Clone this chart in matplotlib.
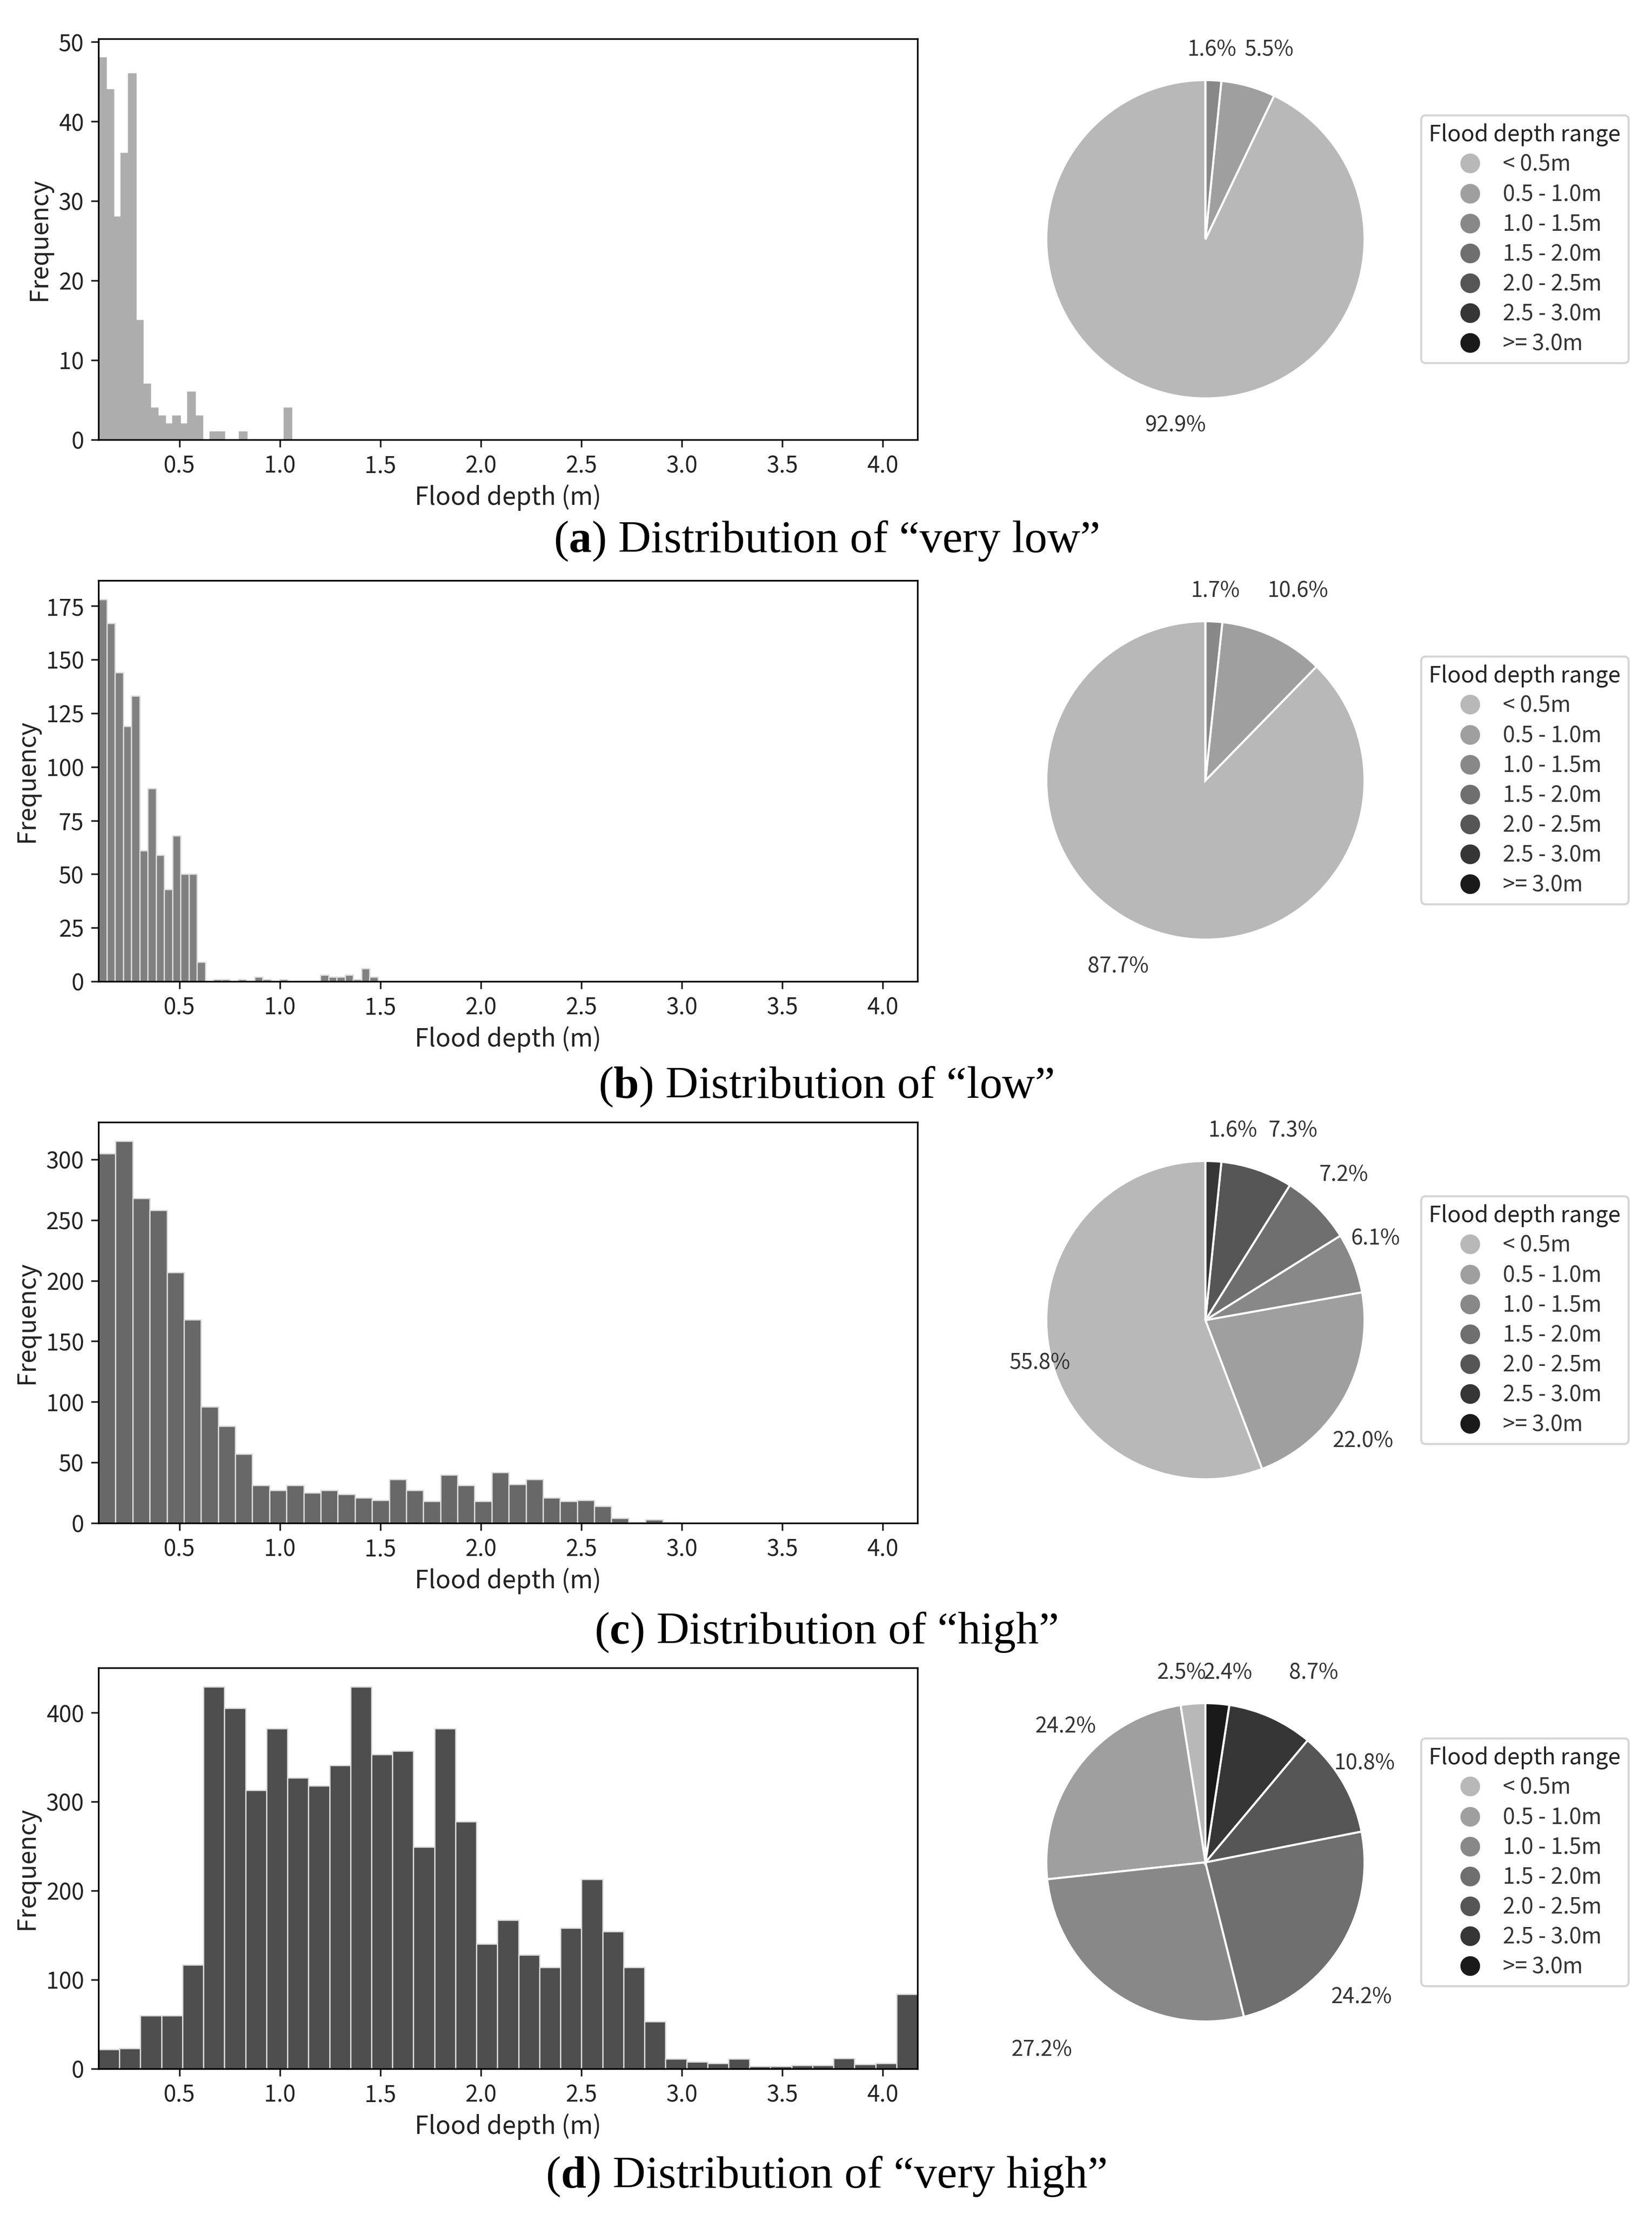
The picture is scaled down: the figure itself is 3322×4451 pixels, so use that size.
import numpy as np
import matplotlib.pyplot as plt
from matplotlib.lines import Line2D

plt.rcParams['font.family'] = ['Noto Sans CJK KR', 'DejaVu Sans']
plt.rcParams['mathtext.fontset'] = 'custom'
plt.rcParams['mathtext.rm'] = 'Liberation Serif'
plt.rcParams['mathtext.bf'] = 'Liberation Serif:bold'

W, H = 3322, 4451
DPI = 300

# histogram counts per bin
BIN_START = 0.0965
XMAX = 4.173

counts_very_low = [48, 44, 28, 36, 46, 15, 7, 4, 3, 2, 3, 2, 6, 3, 0, 1, 1, 0, 0, 1,
                   0, 0, 0, 0, 0, 4]
counts_low = [178, 167, 144, 119, 133, 61, 90, 59, 43, 68, 50, 50, 9, 0, 1, 1, 0, 1,
              0, 2, 1, 0, 1, 0, 0, 0, 0, 3, 2, 2, 3, 1, 6, 2]
counts_high = [305, 315, 268, 258, 207, 168, 96, 80, 57, 31, 27, 31, 25, 27, 24, 21,
               19, 36, 27, 18, 40, 31, 18, 42, 32, 36, 21, 18, 19, 14, 4, 1, 3, 1]
counts_very_high = [22, 23, 60, 60, 117, 429, 405, 313, 382, 327, 318, 341, 429, 353,
                    357, 249, 382, 278, 140, 167, 128, 114, 158, 213, 154, 114, 53,
                    11, 8, 6, 11, 3, 3, 4, 4, 12, 5, 6, 84]
bin_widths = [0.0369, 0.0409, 0.0851, 0.10453]

# share of each flood depth range (%)
ranges = ['< 0.5m', '0.5 - 1.0m', '1.0 - 1.5m', '1.5 - 2.0m',
          '2.0 - 2.5m', '2.5 - 3.0m', '>= 3.0m']
share_very_low = [92.9, 5.5, 1.6, 0, 0, 0, 0]
share_low = [87.7, 10.6, 1.7, 0, 0, 0, 0]
share_high = [55.8, 22.0, 6.1, 7.2, 7.3, 1.6, 0]
share_very_high = [2.5, 24.2, 27.2, 24.2, 10.8, 8.7, 2.4]

classes = ['very low', 'low', 'high', 'very high']
letters = ['a', 'b', 'c', 'd']
yticks = [np.arange(0, 51, 10), np.arange(0, 176, 25),
          np.arange(0, 301, 50), np.arange(0, 401, 100)]

bar_colors = ['#adadad', '#808080', '#686868', '#4e4e4e']
bar_edges = ['#adadad', '#dcdcdc', '#dcdcdc', '#dcdcdc']
range_colors = ['#b8b8b8', '#9f9f9f', '#888888', '#6f6f6f',
                '#565656', '#363636', '#1a1a1a']

# where the percent labels sit, in pie radius units (non-zero slices only)
label_xy = [
    [(-0.19, -1.17), (0.40, 1.19), (0.04, 1.19)],
    [(-0.55, -1.17), (0.58, 1.19), (0.06, 1.19)],
    [(-1.04, -0.27), (0.99, -0.76), (1.07, 0.51), (0.87, 0.91), (0.55, 1.19),
     (0.17, 1.19)],
    [(-0.15, 1.19), (-0.88, 0.85), (-1.03, -1.18), (0.98, -0.85), (1.00, 0.62),
     (0.68, 1.19), (0.14, 1.19)],
]

all_counts = [counts_very_low, counts_low, counts_high, counts_very_high]
all_shares = [share_very_low, share_low, share_high, share_very_high]

# layout in pixels of the final image
HIST_LEFT, HIST_RIGHT, HIST_H = 198, 1845, 806
hist_tops = [78, 1167, 2256, 3353]
PIE_X, PIE_R = 2424, 320
pie_ys = [481, 1569, 2654, 3744]
LEGEND_LEFT = 2858
caption_ys = [1088, 2185, 3282, 4376]

fig = plt.figure(figsize=(W / DPI, H / DPI), dpi=DPI)


def px_axes(left, top, width, height):
    return fig.add_axes([left / W, 1 - (top + height) / H, width / W, height / H])


def pct_label(p):
    return f'{p:.1f}%' if p > 0.05 else ''


for i in range(4):
    counts = np.array(all_counts[i])
    edges = BIN_START + bin_widths[i] * np.arange(len(counts) + 1)

    ax = px_axes(HIST_LEFT, hist_tops[i], HIST_RIGHT - HIST_LEFT, HIST_H)
    ax.hist(edges[:-1], bins=edges, weights=counts, color=bar_colors[i],
            edgecolor=bar_edges[i], linewidth=0.6)
    ax.set_xlim(BIN_START, XMAX)
    ax.set_ylim(0, counts.max() * 1.05)
    ax.set_xticks(np.arange(0.5, 4.01, 0.5))
    ax.set_yticks(yticks[i])
    ax.tick_params(labelsize=11, colors='#222222')
    ax.set_xlabel('Flood depth (m)', fontsize=12, color='#222222', labelpad=3)
    ax.set_ylabel('Frequency', fontsize=12, color='#222222', labelpad=3)

    side = 2.5 * PIE_R
    pax = px_axes(PIE_X - side / 2, pie_ys[i] - side / 2, side, side)
    wedges, texts, autotexts = pax.pie(
        all_shares[i], colors=range_colors, startangle=90, counterclock=True,
        autopct=pct_label, pctdistance=1.2,
        wedgeprops=dict(edgecolor='white', linewidth=1.0),
        textprops=dict(fontsize=10.3, color='#333333'))
    shown = [t for t in autotexts if t.get_text()]
    for t, xy in zip(shown, label_xy[i]):
        t.set_position(xy)

    handles = [Line2D([], [], marker='o', linestyle='', markersize=8.5,
                      markerfacecolor=c, markeredgecolor=c) for c in range_colors]
    leg = pax.legend(handles, ranges, title='Flood depth range',
                     loc='center left',
                     bbox_to_anchor=((LEGEND_LEFT - (PIE_X - side / 2)) / side, 0.5),
                     borderaxespad=0, fontsize=10.6, title_fontsize=10.8,
                     labelspacing=0.32, handletextpad=0.5, borderpad=0.35)
    for txt in leg.get_texts():
        txt.set_color('#333333')
    leg.get_title().set_color('#222222')

    fig.text(0.5, 1 - caption_ys[i] / H,
             rf'($\mathbf{{{letters[i]}}}$) Distribution of “{classes[i]}”',
             family='Liberation Serif', fontsize=22, ha='center', va='center')

fig.savefig('out.png', dpi=DPI)
